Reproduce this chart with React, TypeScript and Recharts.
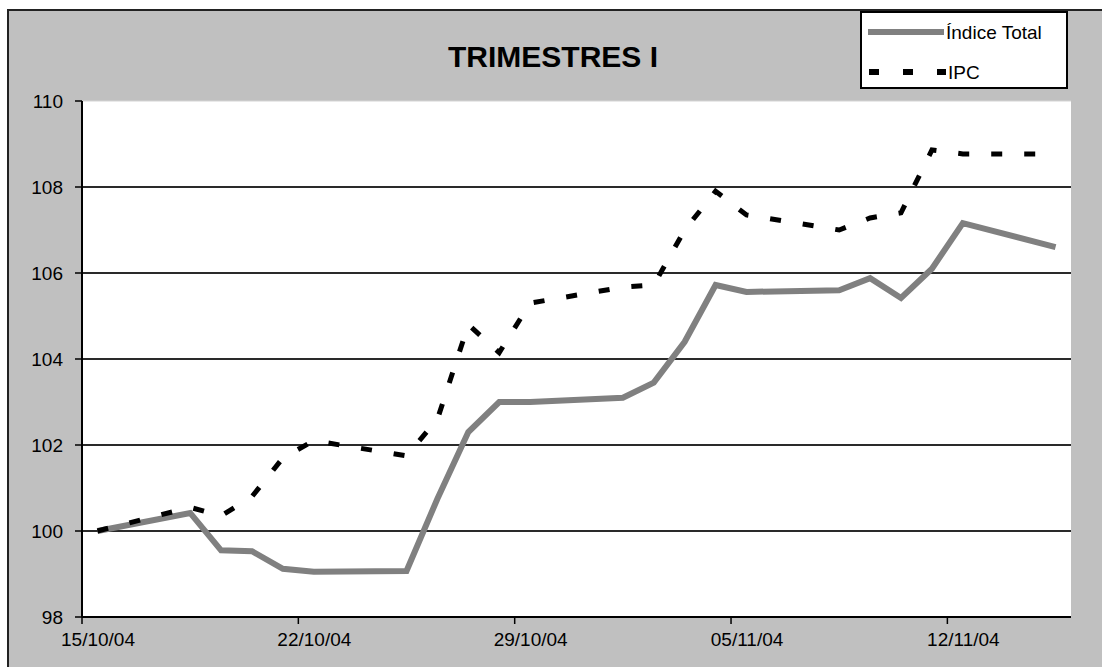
import { LineChart, Line, XAxis, YAxis, CartesianGrid, ReferenceLine, Legend } from 'recharts';

// Días hábiles del periodo
const fechas = [
  '15/10/04', '18/10/04', '19/10/04', '20/10/04', '21/10/04', '22/10/04',
  '25/10/04', '26/10/04', '27/10/04', '28/10/04', '29/10/04',
  '01/11/04', '02/11/04', '03/11/04', '04/11/04', '05/11/04',
  '08/11/04', '09/11/04', '10/11/04', '11/11/04', '12/11/04', '15/11/04',
];

const indiceTotal = [
  100.0, 100.42, 99.55, 99.53, 99.12, 99.05,
  99.07, 100.75, 102.3, 103.0, 103.0,
  103.1, 103.45, 104.4, 105.72, 105.56,
  105.6, 105.88, 105.42, 106.1, 107.16, 106.6,
];

const ipc = [
  100.0, 100.55, 100.35, 100.8, 101.7, 102.1,
  101.75, 102.6, 104.8, 104.15, 105.3,
  105.67, 105.72, 107.0, 107.9, 107.35,
  107.0, 107.28, 107.4, 108.86, 108.77, 108.77,
];

const etiquetasX = ['15/10/04', '22/10/04', '29/10/04', '05/11/04', '12/11/04'];
const ticksY = [98, 100, 102, 104, 106, 108, 110];
const lineasY = [100, 102, 104, 106, 108];

const FONT = '"Liberation Sans", Arial, sans-serif';

const toDay = (s: string) => {
  const [d, m, y] = s.split('/').map(Number);
  return Date.UTC(2000 + y, m - 1, d) / 86400000;
};
const dia0 = toDay(fechas[0]);
const diaFin = toDay(fechas[fechas.length - 1]) - dia0 + 1;

// Excel centra cada punto en su día
const data = fechas.map((f, i) => ({
  x: toDay(f) - dia0 + 0.5,
  indice: indiceTotal[i],
  ipc: ipc[i],
}));
const ticksX = etiquetasX.map((f) => toDay(f) - dia0);

const XTick = ({ x, y, payload }: any) => {
  const idx = ticksX.indexOf(payload.value);
  return (
    <text x={x + 16} y={y + 1} dy="0.71em" textAnchor="middle" fontSize={19} fontFamily={FONT} fill="#000">
      {etiquetasX[idx]}
    </text>
  );
};

const renderLegend = () => (
  <svg width={208} height={78} style={{ display: 'block' }}>
    <rect x={1} y={1} width={206} height={76} fill="#fff" stroke="#000" strokeWidth={2} />
    <line x1={8} x2={84} y1={21} y2={21} stroke="#808080" strokeWidth={6} />
    <text x={86} y={21} dy="0.35em" fontSize={19} fontFamily={FONT} fill="#000">Índice Total</text>
    <line x1={9} x2={86} y1={61} y2={61} stroke="#000" strokeWidth={6} strokeDasharray="10 24" />
    <text x={88} y={61} dy="0.35em" fontSize={19} fontFamily={FONT} fill="#000">IPC</text>
  </svg>
);

export default function App() {
  return (
    <div style={{ position: 'fixed', left: 0, top: 0, width: 1102, height: 667, overflow: 'hidden', background: '#fff' }}>
      <div
        style={{
          position: 'absolute', left: 7, top: 9, width: 1120, height: 700,
          background: '#c0c0c0', borderLeft: '2px solid #222', borderTop: '2px solid #222',
        }}
      />
      <div
        style={{
          position: 'absolute', left: 0, width: 1106, top: 40, textAlign: 'center',
          fontFamily: FONT, fontWeight: 'bold', fontSize: 30, color: '#000',
        }}
      >
        TRIMESTRES I
      </div>
      <div style={{ position: 'absolute', left: 8, top: 10 }}>
        <LineChart width={1094} height={657} data={data} margin={{ top: 91, right: 31, bottom: 10, left: 0 }}>
          <CartesianGrid vertical={false} fill="#fff" stroke="#d4d4d4" />
          {lineasY.map((v) => (
            <ReferenceLine key={v} y={v} stroke="#2a2a2a" strokeWidth={2} />
          ))}
          <XAxis
            dataKey="x"
            type="number"
            domain={[0, diaFin]}
            ticks={ticksX}
            tick={<XTick />}
            tickSize={7}
            tickMargin={8}
            height={40}
            axisLine={{ stroke: '#000', strokeWidth: 2 }}
            tickLine={{ stroke: '#000', strokeWidth: 1.5 }}
          />
          <YAxis
            domain={[98, 110]}
            ticks={ticksY}
            width={74}
            tickSize={7}
            tickMargin={12}
            interval={0}
            axisLine={{ stroke: '#000', strokeWidth: 2 }}
            tickLine={{ stroke: '#000', strokeWidth: 1.5 }}
            tick={{ fill: '#000', fontSize: 19, fontFamily: FONT }}
          />
          <Legend
            layout="vertical"
            align="center"
            verticalAlign="middle"
            content={renderLegend}
            wrapperStyle={{ left: 852, top: 1, width: 208, height: 78 }}
          />
          <Line
            name="Índice Total"
            type="linear"
            dataKey="indice"
            stroke="#808080"
            strokeWidth={6}
            dot={false}
            isAnimationActive={false}
          />
          <Line
            name="IPC"
            type="linear"
            dataKey="ipc"
            stroke="#000"
            strokeWidth={5}
            strokeDasharray="11 22"
            dot={false}
            isAnimationActive={false}
          />
        </LineChart>
      </div>
    </div>
  );
}
